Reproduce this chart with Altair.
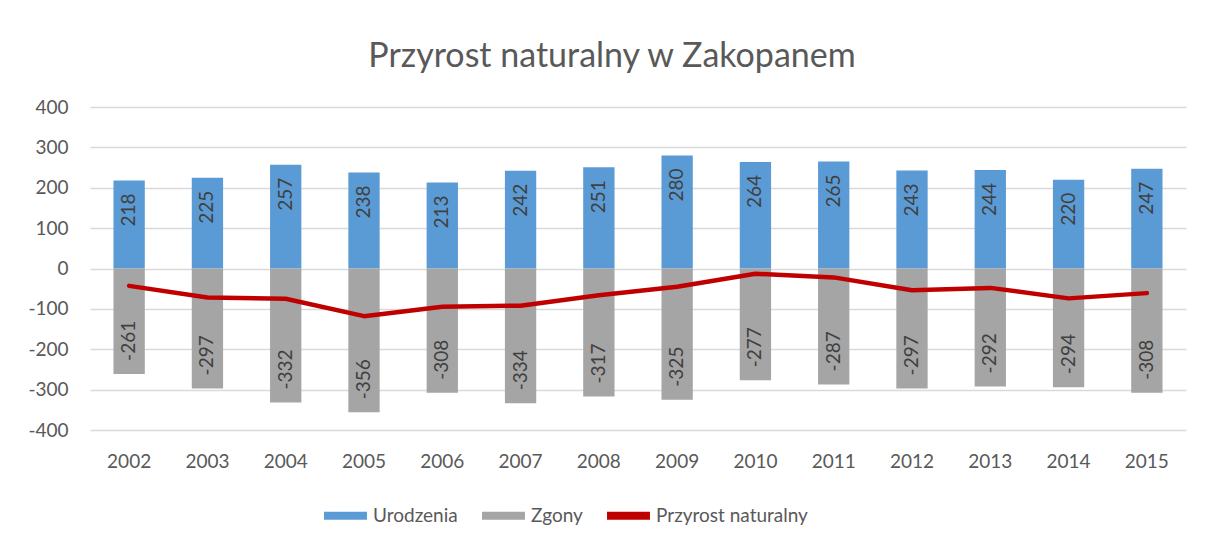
import altair as alt
import pandas as pd

years = ["2002", "2003", "2004", "2005", "2006", "2007", "2008", "2009",
         "2010", "2011", "2012", "2013", "2014", "2015"]
urodzenia = [218, 225, 257, 238, 213, 242, 251, 280, 264, 265, 243, 244, 220, 247]
zgony = [-261, -297, -332, -356, -308, -334, -317, -325, -277, -287, -297, -292, -294, -308]
przyrost = [u + z for u, z in zip(urodzenia, zgony)]

series = ["Urodzenia", "Zgony", "Przyrost naturalny"]
colors = ["#5B9BD5", "#A5A5A5", "#C00000"]

bars = pd.DataFrame(
    [{"rok": y, "seria": "Urodzenia", "wartosc": v} for y, v in zip(years, urodzenia)]
    + [{"rok": y, "seria": "Zgony", "wartosc": v} for y, v in zip(years, zgony)]
)
bars["etykieta"] = bars["wartosc"].astype(str)
line = pd.DataFrame({"rok": years, "seria": "Przyrost naturalny", "wartosc": przyrost})

FONT = "Lato"
TXT = "#595959"
FS = 19

x = alt.X("rok:N", title=None,
          scale=alt.Scale(paddingInner=0.6, paddingOuter=0.3),
          axis=alt.Axis(labelAngle=0, domain=False, ticks=False, labelPadding=22,
                        labelFontSize=FS, labelColor=TXT, labelFont=FONT, grid=False))
y = alt.Y("wartosc:Q", title=None, stack=None,
          scale=alt.Scale(domain=[-400, 400], nice=False),
          axis=alt.Axis(values=list(range(-400, 401, 100)), domain=False, ticks=False,
                        labelExpr="toString(datum.value)",
                        labelPadding=22, labelFontSize=FS, labelColor=TXT, labelFont=FONT,
                        gridColor="#D9D9D9", gridWidth=1.5))
color = alt.Color("seria:N", title=None,
                  scale=alt.Scale(domain=series, range=colors),
                  legend=alt.Legend(orient="none", direction="horizontal",
                                    legendX=241, legendY=394,
                                    symbolType="M-1.5,-0.28H1.5V0.28H-1.5Z",
                                    symbolSize=820, symbolStrokeWidth=0,
                                    labelFontSize=FS, labelColor=TXT, labelFont=FONT,
                                    columnPadding=24, symbolOffset=0, labelOffset=13))

base_bar = alt.Chart(bars).mark_bar().encode(x=x, y=y, color=color)

pos_lbl = alt.Chart(bars).transform_filter("datum.wartosc > 0").mark_text(
    angle=270, align="right", baseline="middle", yOffset=13,
    fontSize=FS, font=FONT, color="#404040"
).encode(x=x, y=y, text="etykieta:N")

neg_lbl = alt.Chart(bars).transform_filter("datum.wartosc < 0").mark_text(
    angle=270, align="left", baseline="middle", yOffset=-13,
    fontSize=FS, font=FONT, color="#404040"
).encode(x=x, y=y, text="etykieta:N")

line_ch = alt.Chart(line).mark_line(strokeWidth=4.5, strokeCap="round", strokeJoin="round").encode(
    x=x, y=y, color=color)

chart = alt.layer(base_bar, pos_lbl, neg_lbl, line_ch).properties(
    width=1096, height=323,
    title=alt.TitleParams("Przyrost naturalny w Zakopanem", fontSize=34, font=FONT,
                          color=TXT, fontWeight="normal", offset=24, dx=-26),
    autosize=alt.AutoSizeParams(type="none"),
    padding={"left": 82, "top": 99, "right": 18, "bottom": 108},
).configure(background="white").configure_view(stroke="transparent", strokeWidth=0)

chart.save("out.html", embed_options={"renderer": "svg", "actions": False})
